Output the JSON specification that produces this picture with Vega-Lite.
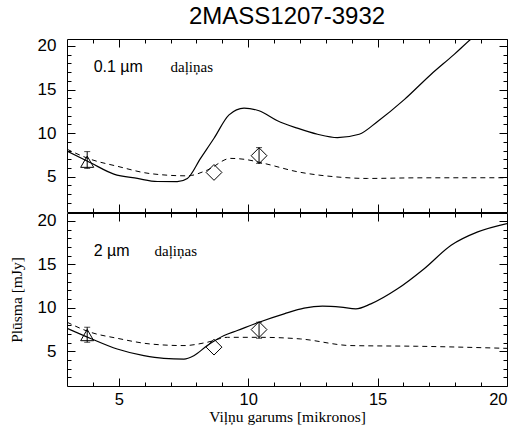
{
  "$schema": "https://vega.github.io/schema/vega-lite/v6.json",
  "background": "white",
  "padding": {"left": 8, "top": 4, "right": 10, "bottom": 8},
  "spacing": -3,
  "config": {
    "view": {"stroke": "black", "strokeWidth": 1},
    "axis": {"grid": false, "domain": false, "labelColor": "black", "labelFont": "Liberation Sans", "labelFontSize": 17}
  },
  "datasets": {
    "top_solid": [
      {"x": 3.0, "y": 7.95}, {"x": 3.91, "y": 6.6}, {"x": 4.81, "y": 5.3}, {"x": 5.72, "y": 4.8},
      {"x": 6.49, "y": 4.45}, {"x": 7.26, "y": 4.43}, {"x": 7.65, "y": 4.8}, {"x": 8.16, "y": 7.1},
      {"x": 8.68, "y": 9.41}, {"x": 9.26, "y": 12.1}, {"x": 9.84, "y": 12.88}, {"x": 10.42, "y": 12.57},
      {"x": 11.13, "y": 11.42}, {"x": 11.9, "y": 10.57}, {"x": 12.68, "y": 9.87}, {"x": 13.45, "y": 9.49},
      {"x": 14.29, "y": 9.87}, {"x": 15.0, "y": 11.34}, {"x": 16.03, "y": 13.84}, {"x": 17.06, "y": 16.73},
      {"x": 17.96, "y": 19.04}, {"x": 18.6, "y": 20.77}, {"x": 19.2, "y": 22.2}
    ],
    "top_dashed": [
      {"x": 3.0, "y": 8.15}, {"x": 3.91, "y": 7.0}, {"x": 4.94, "y": 6.2}, {"x": 6.23, "y": 5.35},
      {"x": 7.65, "y": 5.1}, {"x": 8.42, "y": 5.76}, {"x": 9.32, "y": 7.1}, {"x": 9.84, "y": 7.0},
      {"x": 10.61, "y": 6.53}, {"x": 11.9, "y": 5.57}, {"x": 13.32, "y": 5.0}, {"x": 14.61, "y": 4.8},
      {"x": 16.54, "y": 4.87}, {"x": 20.0, "y": 4.88}
    ],
    "bottom_solid": [
      {"x": 3.0, "y": 7.64}, {"x": 3.91, "y": 6.47}, {"x": 4.94, "y": 5.25}, {"x": 5.97, "y": 4.49},
      {"x": 6.74, "y": 4.18}, {"x": 7.52, "y": 4.1}, {"x": 7.9, "y": 4.49}, {"x": 8.42, "y": 5.65},
      {"x": 9.07, "y": 6.8}, {"x": 9.58, "y": 7.38}, {"x": 10.42, "y": 8.34}, {"x": 11.39, "y": 9.3},
      {"x": 12.16, "y": 9.95}, {"x": 12.87, "y": 10.18}, {"x": 13.58, "y": 10.07}, {"x": 14.16, "y": 9.87},
      {"x": 14.74, "y": 10.45}, {"x": 15.77, "y": 12.18}, {"x": 16.8, "y": 14.49}, {"x": 17.84, "y": 17.19},
      {"x": 18.87, "y": 18.73}, {"x": 20.0, "y": 19.69}
    ],
    "bottom_dashed": [
      {"x": 3.0, "y": 8.34}, {"x": 3.91, "y": 7.18}, {"x": 4.94, "y": 6.49}, {"x": 6.23, "y": 5.83},
      {"x": 7.52, "y": 5.65}, {"x": 8.42, "y": 6.03}, {"x": 9.2, "y": 6.6}, {"x": 10.42, "y": 6.6},
      {"x": 12.03, "y": 6.41}, {"x": 13.97, "y": 5.65}, {"x": 16.55, "y": 5.57}, {"x": 20.0, "y": 5.33}
    ],
    "top_points": [
      {"shape": "triangle-up", "x": 3.78, "y": 6.72},
      {"shape": "diamond", "x": 8.68, "y": 5.49},
      {"shape": "diamond", "x": 10.42, "y": 7.41}
    ],
    "top_errors": [
      {"x": 3.78, "lo": 5.95, "hi": 7.88},
      {"x": 10.42, "lo": 6.53, "hi": 8.34}
    ],
    "bottom_points": [
      {"shape": "triangle-up", "x": 3.78, "y": 6.86},
      {"shape": "diamond", "x": 8.68, "y": 5.47},
      {"shape": "diamond", "x": 10.42, "y": 7.49}
    ],
    "bottom_errors": [
      {"x": 3.78, "lo": 6.03, "hi": 7.76},
      {"x": 10.42, "lo": 6.49, "hi": 8.34}
    ],
    "top_sans": [{"x": 4.03, "y": 17.0, "text": "0.1 µm"}],
    "top_serif": [{"x": 7.0, "y": 17.0, "text": "daļiņas"}],
    "bottom_sans": [{"x": 4.03, "y": 15.96, "text": "2 µm"}],
    "bottom_serif": [{"x": 6.38, "y": 15.96, "text": "daļiņas"}]
  },
  "vconcat": [
    {
      "width": 440,
      "height": 173,
      "title": {"text": "2MASS1207-3932", "font": "Liberation Sans", "fontSize": 24, "fontWeight": "normal", "color": "black", "anchor": "middle", "frame": "group", "offset": 8},
      "resolve": {"axis": {"x": "independent", "y": "independent"}},
      "layer": [
        {
          "data": {"name": "top_solid"},
          "mark": {"type": "line", "color": "black", "strokeWidth": 1.2, "clip": true, "interpolate": "monotone"},
          "encoding": {
            "x": {"field": "x", "type": "quantitative", "scale": {"domain": [3, 20]}, "axis": {"orient": "bottom", "values": [5, 10, 15, 20], "labels": false, "offset": -8, "tickSize": 8, "tickColor": "black", "title": null}},
            "y": {"field": "y", "type": "quantitative", "scale": {"domain": [0.95, 20.8]}, "axis": {"orient": "left", "values": [5, 10, 15, 20], "offset": -8, "tickSize": 8, "tickColor": "black", "labelPadding": 11, "title": null}}
          }
        },
        {
          "data": {"name": "top_dashed"},
          "mark": {"type": "line", "color": "black", "strokeWidth": 1, "strokeDash": [5, 4], "clip": true, "interpolate": "monotone"},
          "encoding": {
            "x": {"field": "x", "type": "quantitative", "scale": {"domain": [3, 20]}, "axis": {"orient": "top", "values": [5, 10, 15, 20], "labels": false, "offset": -8, "tickSize": 8, "tickColor": "black", "title": null}},
            "y": {"field": "y", "type": "quantitative", "scale": {"domain": [0.95, 20.8]}, "axis": {"orient": "right", "values": [5, 10, 15, 20], "labels": false, "offset": -8, "tickSize": 8, "tickColor": "black", "title": null}}
          }
        },
        {
          "data": {"name": "top_points"},
          "mark": {"type": "point", "filled": false, "color": "black", "strokeWidth": 1, "opacity": 1},
          "encoding": {
            "x": {"field": "x", "type": "quantitative", "scale": {"domain": [3, 20]}, "axis": {"orient": "bottom", "values": [4, 6, 7, 8, 9, 11, 12, 13, 14, 16, 17, 18, 19], "labels": false, "offset": -4, "tickSize": 4, "tickColor": "black", "title": null}},
            "y": {"field": "y", "type": "quantitative", "scale": {"domain": [0.95, 20.8]}, "axis": {"orient": "left", "values": [2, 3, 4, 6, 7, 8, 9, 11, 12, 13, 14, 16, 17, 18, 19], "labels": false, "offset": -4, "tickSize": 4, "tickColor": "black", "title": null}},
            "shape": {"field": "shape", "type": "nominal", "scale": {"domain": ["triangle-up", "diamond"], "range": ["triangle-up", "diamond"]}, "legend": null},
            "size": {"field": "shape", "type": "nominal", "scale": {"domain": ["triangle-up", "diamond"], "range": [170, 250]}, "legend": null}
          }
        },
        {
          "data": {"name": "top_errors"},
          "mark": {"type": "rule", "color": "black", "strokeWidth": 1},
          "encoding": {
            "x": {"field": "x", "type": "quantitative", "scale": {"domain": [3, 20]}, "axis": {"orient": "top", "values": [4, 6, 7, 8, 9, 11, 12, 13, 14, 16, 17, 18, 19], "labels": false, "offset": -4, "tickSize": 4, "tickColor": "black", "title": null}},
            "y": {"field": "lo", "type": "quantitative", "scale": {"domain": [0.95, 20.8]}, "axis": {"orient": "right", "values": [2, 3, 4, 6, 7, 8, 9, 11, 12, 13, 14, 16, 17, 18, 19], "labels": false, "offset": -4, "tickSize": 4, "tickColor": "black", "title": null}},
            "y2": {"field": "hi"}
          }
        },
        {
          "data": {"name": "top_errors"},
          "transform": [{"fold": ["lo", "hi"], "as": ["end", "v"]}],
          "mark": {"type": "tick", "orient": "horizontal", "color": "black", "size": 6, "thickness": 1},
          "encoding": {
            "x": {"field": "x", "type": "quantitative", "scale": {"domain": [3, 20]}, "axis": null},
            "y": {"field": "v", "type": "quantitative", "scale": {"domain": [0.95, 20.8]}, "axis": null}
          }
        },
        {
          "data": {"name": "top_sans"},
          "mark": {"type": "text", "align": "left", "baseline": "alphabetic", "font": "Liberation Sans", "fontSize": 16, "color": "black"},
          "encoding": {
            "x": {"field": "x", "type": "quantitative", "scale": {"domain": [3, 20]}, "axis": null},
            "y": {"field": "y", "type": "quantitative", "scale": {"domain": [0.95, 20.8]}, "axis": null},
            "text": {"field": "text"}
          }
        },
        {
          "data": {"name": "top_serif"},
          "mark": {"type": "text", "align": "left", "baseline": "alphabetic", "font": "Liberation Serif", "fontSize": 15, "color": "black"},
          "encoding": {
            "x": {"field": "x", "type": "quantitative", "scale": {"domain": [3, 20]}, "axis": null},
            "y": {"field": "y", "type": "quantitative", "scale": {"domain": [0.95, 20.8]}, "axis": null},
            "text": {"field": "text"}
          }
        }
      ]
    },
    {
      "width": 440,
      "height": 173,
      "resolve": {"axis": {"x": "independent", "y": "independent"}},
      "layer": [
        {
          "data": {"name": "bottom_solid"},
          "mark": {"type": "line", "color": "black", "strokeWidth": 1.2, "clip": true, "interpolate": "monotone"},
          "encoding": {
            "x": {"field": "x", "type": "quantitative", "scale": {"domain": [3, 20]}, "axis": {"orient": "bottom", "values": [5, 10, 15, 20], "offset": -8, "tickSize": 8, "tickColor": "black", "labelPadding": 5, "labelFontSize": 16.5, "title": "Viļņu garums [mikronos]", "titleFont": "Liberation Serif", "titleFontSize": 15.5, "titleFontWeight": "normal", "titleColor": "black", "titlePadding": 2}},
            "y": {"field": "y", "type": "quantitative", "scale": {"domain": [1.0, 20.9]}, "axis": {"orient": "left", "values": [5, 10, 15, 20], "offset": -8, "tickSize": 8, "tickColor": "black", "labelPadding": 11, "title": "Plūsma [mJy]", "titleFont": "Liberation Serif", "titleFontSize": 15.5, "titleFontWeight": "normal", "titleColor": "black", "titlePadding": 13}}
          }
        },
        {
          "data": {"name": "bottom_dashed"},
          "mark": {"type": "line", "color": "black", "strokeWidth": 1, "strokeDash": [5, 4], "clip": true, "interpolate": "monotone"},
          "encoding": {
            "x": {"field": "x", "type": "quantitative", "scale": {"domain": [3, 20]}, "axis": {"orient": "top", "values": [5, 10, 15, 20], "labels": false, "offset": -8, "tickSize": 8, "tickColor": "black", "title": null}},
            "y": {"field": "y", "type": "quantitative", "scale": {"domain": [1.0, 20.9]}, "axis": {"orient": "right", "values": [5, 10, 15, 20], "labels": false, "offset": -8, "tickSize": 8, "tickColor": "black", "title": null}}
          }
        },
        {
          "data": {"name": "bottom_points"},
          "mark": {"type": "point", "filled": false, "color": "black", "strokeWidth": 1, "opacity": 1},
          "encoding": {
            "x": {"field": "x", "type": "quantitative", "scale": {"domain": [3, 20]}, "axis": {"orient": "bottom", "values": [4, 6, 7, 8, 9, 11, 12, 13, 14, 16, 17, 18, 19], "labels": false, "offset": -4, "tickSize": 4, "tickColor": "black", "title": null}},
            "y": {"field": "y", "type": "quantitative", "scale": {"domain": [1.0, 20.9]}, "axis": {"orient": "left", "values": [2, 3, 4, 6, 7, 8, 9, 11, 12, 13, 14, 16, 17, 18, 19], "labels": false, "offset": -4, "tickSize": 4, "tickColor": "black", "title": null}},
            "shape": {"field": "shape", "type": "nominal", "scale": {"domain": ["triangle-up", "diamond"], "range": ["triangle-up", "diamond"]}, "legend": null},
            "size": {"field": "shape", "type": "nominal", "scale": {"domain": ["triangle-up", "diamond"], "range": [170, 250]}, "legend": null}
          }
        },
        {
          "data": {"name": "bottom_errors"},
          "mark": {"type": "rule", "color": "black", "strokeWidth": 1},
          "encoding": {
            "x": {"field": "x", "type": "quantitative", "scale": {"domain": [3, 20]}, "axis": {"orient": "top", "values": [4, 6, 7, 8, 9, 11, 12, 13, 14, 16, 17, 18, 19], "labels": false, "offset": -4, "tickSize": 4, "tickColor": "black", "title": null}},
            "y": {"field": "lo", "type": "quantitative", "scale": {"domain": [1.0, 20.9]}, "axis": {"orient": "right", "values": [2, 3, 4, 6, 7, 8, 9, 11, 12, 13, 14, 16, 17, 18, 19], "labels": false, "offset": -4, "tickSize": 4, "tickColor": "black", "title": null}},
            "y2": {"field": "hi"}
          }
        },
        {
          "data": {"name": "bottom_errors"},
          "transform": [{"fold": ["lo", "hi"], "as": ["end", "v"]}],
          "mark": {"type": "tick", "orient": "horizontal", "color": "black", "size": 6, "thickness": 1},
          "encoding": {
            "x": {"field": "x", "type": "quantitative", "scale": {"domain": [3, 20]}, "axis": null},
            "y": {"field": "v", "type": "quantitative", "scale": {"domain": [1.0, 20.9]}, "axis": null}
          }
        },
        {
          "data": {"name": "bottom_sans"},
          "mark": {"type": "text", "align": "left", "baseline": "alphabetic", "font": "Liberation Sans", "fontSize": 16, "color": "black"},
          "encoding": {
            "x": {"field": "x", "type": "quantitative", "scale": {"domain": [3, 20]}, "axis": null},
            "y": {"field": "y", "type": "quantitative", "scale": {"domain": [1.0, 20.9]}, "axis": null},
            "text": {"field": "text"}
          }
        },
        {
          "data": {"name": "bottom_serif"},
          "mark": {"type": "text", "align": "left", "baseline": "alphabetic", "font": "Liberation Serif", "fontSize": 15, "color": "black"},
          "encoding": {
            "x": {"field": "x", "type": "quantitative", "scale": {"domain": [3, 20]}, "axis": null},
            "y": {"field": "y", "type": "quantitative", "scale": {"domain": [1.0, 20.9]}, "axis": null},
            "text": {"field": "text"}
          }
        }
      ]
    }
  ]
}
